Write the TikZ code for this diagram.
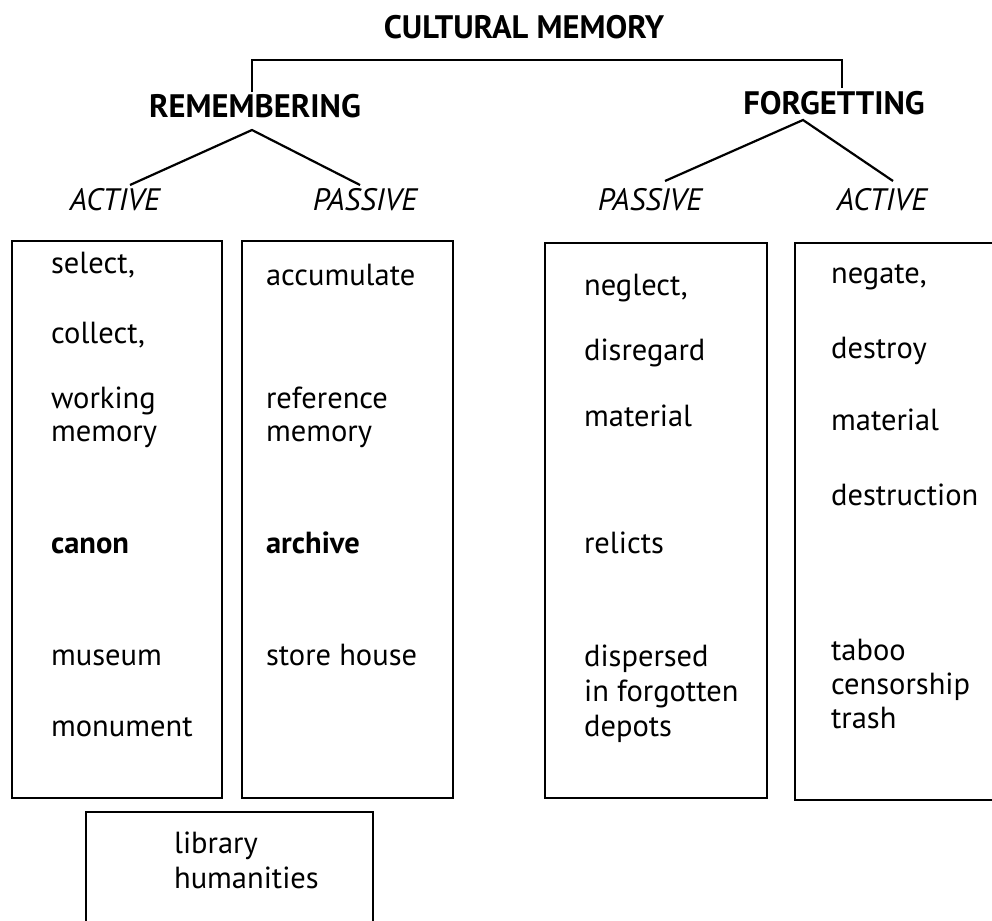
\documentclass[tikz,border=0pt]{standalone}
\usepackage{fontspec}
\setmainfont{PT Sans}
\begin{document}
\begin{tikzpicture}[x=1pt,y=-1pt,
  line width=2.2pt,
  txt/.style={anchor=base west,inner sep=0pt,font=\fontsize{30.5}{34}\selectfont},
  btxt/.style={txt,font=\fontsize{30.5}{34}\selectfont\bfseries},
  head/.style={anchor=base,inner sep=0pt,font=\fontsize{32.5}{36}\selectfont\bfseries},
  sub/.style={anchor=base,inner sep=0pt,font=\fontsize{31}{34}\selectfont\itshape}]
\useasboundingbox (0,0) rectangle (992,920);
\clip (0,0) rectangle (992,920);
% headings
\node[head] (cm) at (524,39) {CULTURAL MEMORY};
\node[head] (rem) at (255,118) {REMEMBERING};
\node[head] (forg) at (834,115) {FORGETTING};
\node[sub] (ra) at (115,210) {ACTIVE};
\node[sub] (rp) at (365,210) {PASSIVE};
\node[sub] (fp) at (650,210) {PASSIVE};
\node[sub] (fa) at (882,210) {ACTIVE};
% bracket
\coordinate (bl) at (252,92);
\coordinate (br) at (842,88);
\draw (bl) -- (252,60) -- (842,60) -- (br);
% branches
\coordinate (rtop) at (252,130);
\coordinate (ftop) at (803,120);
\coordinate (raend) at (130,185);
\coordinate (rpend) at (360,185);
\coordinate (fpend) at (665,181);
\coordinate (faend) at (893,181);
\draw (raend) -- (rtop) -- (rpend);
\draw (fpend) -- (ftop) -- (faend);
% boxes
\draw (12,241) rectangle (222,798);
\draw (242,241) rectangle (453,798);
\draw (545,243) rectangle (767,798);
\draw (795,243) rectangle (1010,800);
\draw (86,812) rectangle (373,940);
% box 1
\node[txt] (a1) at (50,273) {select,};
\node[txt] (a2) at (50,343) {collect,};
\node[txt] (a3) at (50,408) {working};
\node[txt] (a4) at (50,441) {memory};
\node[btxt] (a5) at (50,553) {canon};
\node[txt] (a6) at (50,665) {museum};
\node[txt] (a7) at (50,736) {monument};
% box 2
\node[txt] (b1) at (265,285) {accumulate};
\node[txt] (b2) at (265,408) {reference};
\node[txt] (b3) at (265,441) {memory};
\node[btxt] (b4) at (265,553) {archive};
\node[txt] (b5) at (265,665) {store house};
% box 3
\node[txt] (c1) at (583,295) {neglect,};
\node[txt] (c2) at (583,360) {disregard};
\node[txt] (c3) at (583,426) {material};
\node[txt] (c4) at (583,553) {relicts};
\node[txt] (c5) at (583,666) {dispersed};
\node[txt] (c6) at (583,701) {in forgotten};
\node[txt] (c7) at (583,736) {depots};
% box 4
\node[txt] (d1) at (830,283) {negate,};
\node[txt] (d2) at (830,358) {destroy};
\node[txt] (d3) at (830,430) {material};
\node[txt] (d4) at (830,505) {destruction};
\node[txt] (d5) at (830,660) {taboo};
\node[txt] (d6) at (830,694) {censorship};
\node[txt] (d7) at (830,728) {trash};
% box 5
\node[txt] (e1) at (173,853) {library};
\node[txt] (e2) at (173,888) {humanities};
\end{tikzpicture}
\end{document}
